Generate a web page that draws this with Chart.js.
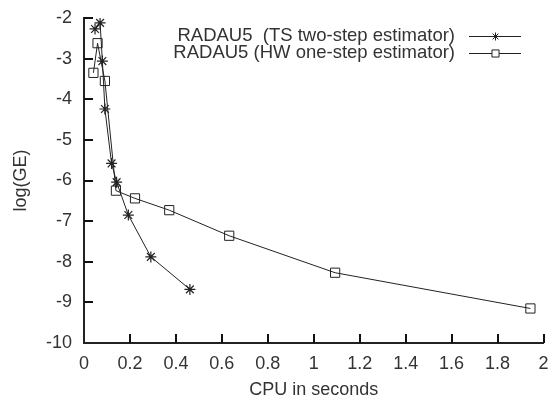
<!DOCTYPE html>
<html>
<head>
<meta charset="utf-8">
<script src="https://cdn.jsdelivr.net/npm/chart.js@4.4.1/dist/chart.umd.min.js"></script>
<style>
html,body{margin:0;padding:0;background:#fff;}
#c{display:block;}
</style>
</head>
<body>
<canvas id="c" width="551" height="396"></canvas>
<script>
// Data
const seriesLabels = ["RADAU5  (TS two-step estimator)", "RADAU5 (HW one-step estimator)"];
const tsCpu = [0.048, 0.070, 0.080, 0.091, 0.120, 0.142, 0.193, 0.291, 0.461];
const tsLogGE = [-2.27, -2.12, -3.06, -4.24, -5.58, -6.04, -6.85, -7.88, -8.68];
const hwCpu = [0.041, 0.059, 0.091, 0.139, 0.222, 0.371, 0.632, 1.093, 1.943];
const hwLogGE = [-3.35, -2.62, -3.55, -6.25, -6.44, -6.73, -7.36, -8.27, -9.15];
const xTicks = [0, 0.2, 0.4, 0.6, 0.8, 1, 1.2, 1.4, 1.6, 1.8, 2];
const yTicks = [-10, -9, -8, -7, -6, -5, -4, -3, -2];

const FONT = "'Liberation Sans', Arial, Helvetica, sans-serif";
const FS = 18;
const TEXT = '#333333';
const LINE = '#222222';

function toPts(xs, ys){ return xs.map((x,i)=>({x:x, y:ys[i]})); }

const inwardTicks = {
  id: 'inwardTicks',
  afterDraw(chart){
    const ctx = chart.ctx, ca = chart.chartArea;
    const xs = chart.scales.x, ys = chart.scales.y;
    ctx.save();
    ctx.strokeStyle = '#111111';
    ctx.lineWidth = 2;
    ctx.beginPath();
    for (let i = 1; i < xTicks.length; i++) {
      const px = Math.round(xs.getPixelForValue(xTicks[i]));
      ctx.moveTo(px, ca.bottom);
      ctx.lineTo(px, ca.bottom - 9);
    }
    for (let i = 1; i < yTicks.length; i++) {
      const py = Math.round(ys.getPixelForValue(yTicks[i]));
      ctx.moveTo(ca.left, py);
      ctx.lineTo(ca.left + 9, py);
    }
    ctx.stroke();
    ctx.restore();
  }
};

const rightLegend = {
  id: 'rightLegend',
  afterDraw(chart){
    const ctx = chart.ctx;
    ctx.save();
    ctx.font = "18.5px " + FONT;
    ctx.textAlign = 'right';
    ctx.textBaseline = 'middle';
    const rows = [35.5, 53];
    chart.data.datasets.forEach((ds, i)=>{
      const y = rows[i];
      ctx.fillStyle = TEXT;
      ctx.fillText(ds.label, 455, y);
      ctx.strokeStyle = LINE;
      ctx.lineWidth = 1;
      ctx.beginPath();
      ctx.moveTo(469, Math.round(y)+0.5); ctx.lineTo(521, Math.round(y)+0.5);
      ctx.stroke();
      ctx.fillStyle = '#ffffff';
      ctx.strokeStyle = LINE;
      Chart.helpers.drawPoint(ctx, {
        pointStyle: ds.pointStyle, radius: ds.pointRadius - 1.5, rotation: 0,
        borderWidth: 1
      }, 495.5, Math.round(y)+0.5);
    });
    ctx.restore();
  }
};

new Chart(document.getElementById('c'), {
  type: 'scatter',
  data: {
    datasets: [
      {
        label: seriesLabels[0],
        data: toPts(tsCpu, tsLogGE),
        showLine: true,
        borderColor: LINE,
        borderWidth: 1,
        pointStyle: 'star',
        pointRadius: 5.5,
        pointBorderColor: LINE,
        pointBorderWidth: 1.2,
        pointBackgroundColor: 'rgba(0,0,0,0)',
        tension: 0
      },
      {
        label: seriesLabels[1],
        data: toPts(hwCpu, hwLogGE),
        showLine: true,
        borderColor: LINE,
        borderWidth: 1,
        pointStyle: 'rect',
        pointRadius: 6.5,
        pointBorderColor: LINE,
        pointBorderWidth: 1,
        pointBackgroundColor: 'rgba(0,0,0,0)',
        tension: 0
      }
    ]
  },
  options: {
    responsive: false,
    animation: false,
    devicePixelRatio: 1,
    layout: { padding: { left: 0, top: 18, right: 7, bottom: 0 } },
    plugins: { legend: { display: false }, tooltip: { enabled: false } },
    scales: {
      x: {
        type: 'linear',
        min: 0, max: 2,
        afterFit(s){ s.height = 53; s.paddingRight = 0; s.paddingLeft = 0; },
        afterBuildTicks(s){ s.ticks = xTicks.map(v=>({value:v})); },
        grid: { display: false, drawTicks: false },
        border: { display: true, color: LINE, width: 2 },
        ticks: { color: TEXT, font: { family: FONT, size: FS }, padding: 10,
                 maxRotation: 0, autoSkip: false,
                 callback: v => String(v) },
        title: { display: true, text: 'CPU in seconds', color: TEXT,
                 font: { family: FONT, size: FS, lineHeight: 0.7 }, padding: { top: 0, bottom: 0 } }
      },
      y: {
        type: 'linear',
        min: -10, max: -2,
        afterFit(s){ s.width = 84; s.paddingTop = 0; s.paddingBottom = 0; },
        afterBuildTicks(s){ s.ticks = yTicks.map(v=>({value:v})); },
        grid: { display: false, drawTicks: false },
        border: { display: true, color: LINE, width: 2 },
        ticks: { color: TEXT, font: { family: FONT, size: FS }, padding: 12,
                 autoSkip: false, callback: v => String(v) },
        title: { display: true, text: 'log(GE)', color: TEXT,
                 font: { family: FONT, size: FS, lineHeight: 1 }, padding: { top: 12, bottom: 0 } }
      }
    }
  },
  plugins: [inwardTicks, rightLegend]
});
</script>
</body>
</html>
